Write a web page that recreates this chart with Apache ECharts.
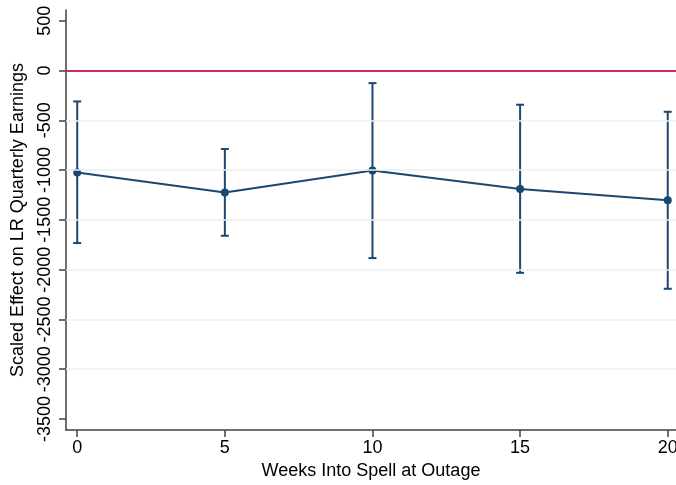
<!DOCTYPE html>
<html>
<head>
<meta charset="utf-8">
<script src="https://cdn.jsdelivr.net/npm/echarts@6/dist/echarts.min.js"></script>
<style>html,body{margin:0;padding:0;background:#fff}#c{width:676px;height:485px}</style>
</head>
<body>
<div id="c"></div>
<script>
const weeks = [0, 5, 10, 15, 20];
const estimates = [-1024, -1225, -1004, -1191, -1302];
const ciLow = [-1733, -1660, -1884, -2032, -2192];
const ciHigh = [-311, -789, -127, -344, -415];
const xTicks = [0, 5, 10, 15, 20];
const yTicks = [-3500, -3000, -2500, -2000, -1500, -1000, -500, 0, 500];
const gridValues = [-3000, -2500, -2000, -1500, -1000, -500];
const refValue = 0;

const navy = '#1a476f';
const font = 'Liberation Sans, Arial, sans-serif';
const chart = echarts.init(document.getElementById('c'), null, {renderer: 'canvas'});

const errData = weeks.map((w, i) => [w, ciLow[i], ciHigh[i]]);

chart.setOption({
  animation: false,
  textStyle: {fontFamily: font},
  grid: {left: 66, right: 0, top: 10, bottom: 55, containLabel: false, outerBoundsMode: 'none'},
  xAxis: {
    type: 'value', min: -0.38, max: 20.28,
    name: 'Weeks Into Spell at Outage', nameLocation: 'middle', nameGap: 32,
    nameTextStyle: {fontSize: 18, color: '#000', fontFamily: font},
    axisLine: {show: true, onZero: false, lineStyle: {color: '#404040', width: 1.5}},
    axisTick: {show: true, length: 7, customValues: xTicks, lineStyle: {color: '#404040', width: 1.5}},
    axisLabel: {customValues: xTicks, fontSize: 18, color: '#000', margin: 9, fontFamily: font,
      formatter: v => String(v)},
    splitLine: {show: false}
  },
  yAxis: {
    type: 'value', min: -3610, max: 607,
    name: 'Scaled Effect on LR Quarterly Earnings', nameLocation: 'middle', nameGap: 39,
    nameTextStyle: {fontSize: 18, color: '#000', fontFamily: font},
    axisLine: {show: true, onZero: false, lineStyle: {color: '#404040', width: 1.5}},
    axisTick: {show: true, length: 7, customValues: yTicks, lineStyle: {color: '#404040', width: 1.5}},
    axisLabel: {customValues: yTicks, rotate: 90, fontSize: 18, color: '#000', margin: 12, fontFamily: font,
      formatter: v => String(v)},
    splitLine: {show: false}
  },
  series: [
    {
      type: 'line', data: [], silent: true,
      markLine: {
        silent: true, symbol: 'none', label: {show: false},
        lineStyle: {color: '#eaf2f3', width: 1.5, type: 'solid'},
        data: gridValues.map(v => ({yAxis: v}))
      }
    },
    {
      type: 'line', data: [], silent: true,
      markLine: {
        silent: true, symbol: 'none', label: {show: false},
        lineStyle: {color: '#d22a56', width: 2, type: 'solid'},
        data: [{yAxis: refValue}]
      }
    },
    {
      type: 'custom', data: errData, z: 3,
      renderItem: function (params, api) {
        const x = api.value(0);
        const lo = api.coord([x, api.value(1)]);
        const hi = api.coord([x, api.value(2)]);
        const cap = 4;
        const st = {stroke: navy, lineWidth: 2};
        return {type: 'group', children: [
          {type: 'line', shape: {x1: lo[0], y1: lo[1], x2: hi[0], y2: hi[1]}, style: st},
          {type: 'line', shape: {x1: lo[0] - cap, y1: lo[1], x2: lo[0] + cap, y2: lo[1]}, style: st},
          {type: 'line', shape: {x1: hi[0] - cap, y1: hi[1], x2: hi[0] + cap, y2: hi[1]}, style: st}
        ]};
      }
    },
    {
      type: 'line', z: 4,
      data: weeks.map((w, i) => [w, estimates[i]]),
      symbol: 'circle', symbolSize: 8,
      lineStyle: {color: navy, width: 2},
      itemStyle: {color: navy}
    }
  ]
});
</script>
</body>
</html>
